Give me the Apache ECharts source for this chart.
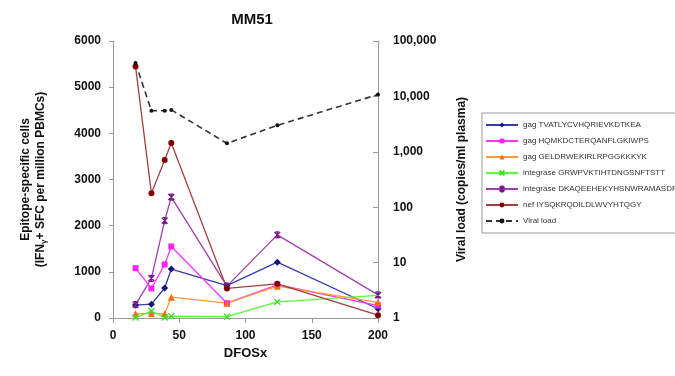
<!DOCTYPE html>
<html>
<head>
<meta charset="utf-8">
<script src="https://cdn.jsdelivr.net/npm/echarts@6/dist/echarts.min.js"></script>
<style>
  html, body { margin: 0; padding: 0; background: #fff; }
  #chart { width: 675px; height: 376px; }
</style>
</head>
<body>
<div id="chart"></div>
<script>
// DFOSx sample days
const days = [17, 29, 39, 44, 86, 124, 200];

// epitope-specific cells (IFN-g SFC per million PBMCs)
const gagTVA = [280, 300, 650, 1060, 700, 1210, 200];
const gagHQM = [1080, 640, 1160, 1550, 320, 720, 270];
const gagGEL = [90, 100, 90, 450, 320, 690, 340];
const intGRW = [10, 150, 10, 40, 30, 350, 490];
const intDKA = [290, 860, 2110, 2620, 690, 1800, 500];
const nefIYS = [5450, 2700, 3420, 3790, 640, 740, 60];

// viral load (copies/ml plasma)
const viralLoad = [40000, 5500, 5500, 5700, 1420, 3000, 10800];

const leftTicks = [0, 1000, 2000, 3000, 4000, 5000, 6000];

const names = [
    'gag TVATLYCVHQRIEVKDTKEA',
    'gag HQMKDCTERQANFLGKIWPS',
    'gag GELDRWEKIRLRPGGKKKYK',
    'integrase GRWPVKTIHTDNGSNFTSTT',
    'integrase DKAQEEHEKYHSNWRAMASDF',
    'nef IYSQKRQDILDLWVYHTQGY',
    'Viral load'
];

const crossPath = 'path://M0,0L10,10M10,0L0,10';
const starPath = 'path://M0,0L10,10M10,0L0,10M5,0L5,10M2,0L8,0M2,10L8,10';

function pairs(vals) {
    return days.map((d, i) => [d, vals[i]]);
}

function lineSeries(name, vals, color, markColor, symbol, size, stroke) {
    return {
        name: name,
        type: 'line',
        data: pairs(vals),
        symbol: symbol,
        symbolSize: size,
        lineStyle: { color: color, width: 1.3 },
        itemStyle: stroke
            ? { color: markColor, borderColor: markColor, borderWidth: 1.3 }
            : { color: markColor, borderWidth: 0 },
        emphasis: { disabled: true },
        animation: false
    };
}

const chart = echarts.init(document.getElementById('chart'));

const axisFont = { fontFamily: 'Liberation Sans, Arial', fontWeight: 'bold', fontSize: 12, color: '#111' };

chart.setOption({
    backgroundColor: '#fff',
    title: {
        text: 'MM51',
        left: 247,
        textAlign: 'center',
        top: 7,
        textStyle: { fontFamily: 'Liberation Sans, Arial', fontWeight: 'bold', fontSize: 15, color: '#111' }
    },
    grid: { left: 113, right: 297, top: 41, bottom: 58 },
    legend: {
        orient: 'vertical',
        left: 482,
        top: 113,
        padding: [8, 6, 8, 3],
        itemGap: 8,
        itemWidth: 32,
        itemHeight: 6,
        borderColor: '#999',
        borderWidth: 1,
        backgroundColor: '#fff',
        textStyle: { fontFamily: 'Liberation Sans, Arial', fontSize: 8, color: '#333', lineHeight: 8 },
        data: names
    },
    xAxis: {
        type: 'value',
        min: 0,
        max: 200,
        interval: 50,
        name: 'DFOSx',
        nameLocation: 'middle',
        nameGap: 28,
        nameTextStyle: { fontFamily: 'Liberation Sans, Arial', fontWeight: 'bold', fontSize: 13, color: '#111' },
        axisLine: { lineStyle: { color: '#999' } },
        axisTick: { lineStyle: { color: '#999' }, length: 5 },
        axisLabel: Object.assign({ margin: 12 }, axisFont),
        splitLine: { show: false }
    },
    yAxis: [
        {
            type: 'value',
            min: leftTicks[0],
            max: leftTicks[leftTicks.length - 1],
            interval: 1000,
            name: '{t|Epitope-specific cells}\n{t|(IFN}{s|γ}{t|+ SFC per million PBMCs)}',
            nameLocation: 'middle',
            nameGap: 65,
            nameRotate: 90,
            nameTextStyle: {
                rich: {
                    t: { fontFamily: 'Liberation Sans, Arial', fontWeight: 'bold', fontSize: 12, color: '#111', lineHeight: 15 },
                    s: { fontFamily: 'Liberation Sans, Arial', fontWeight: 'bold', fontSize: 8, color: '#111', lineHeight: 15, verticalAlign: 'bottom' }
                }
            },
            axisLine: { show: true, lineStyle: { color: '#999' } },
            axisTick: { show: true, lineStyle: { color: '#999' }, length: 4 },
            axisLabel: Object.assign({ margin: 12, formatter: v => String(v) }, axisFont),
            splitLine: { show: false }
        },
        {
            type: 'log',
            logBase: 10,
            min: 1,
            max: 100000,
            position: 'right',
            name: 'Viral load (copies/ml plasma)',
            nameLocation: 'middle',
            nameGap: 78,
            nameRotate: 90,
            nameTextStyle: { fontFamily: 'Liberation Sans, Arial', fontWeight: 'bold', fontSize: 12, color: '#111' },
            axisLine: { show: true, lineStyle: { color: '#999' } },
            axisTick: { show: true, inside: true, lineStyle: { color: '#999' }, length: 5 },
            axisLabel: Object.assign({
                margin: 15,
                formatter: v => Math.round(v).toLocaleString('en-US')
            }, axisFont),
            splitLine: { show: false }
        }
    ],
    series: [
        lineSeries(names[0], gagTVA, '#3a3aa8', '#14147a', 'diamond', 7, false),
        lineSeries(names[1], gagHQM, '#ff33ff', '#ff22ff', 'rect', 6, false),
        lineSeries(names[2], gagGEL, '#ff9933', '#ff6a10', 'triangle', 7, false),
        lineSeries(names[3], intGRW, '#55ff33', '#33dd22', crossPath, 6, true),
        lineSeries(names[4], intDKA, '#a040b0', '#7a1a8a', starPath, 6, true),
        lineSeries(names[5], nefIYS, '#a04040', '#800000', 'circle', 6, false),
        {
            name: names[6],
            type: 'line',
            yAxisIndex: 1,
            data: pairs(viralLoad),
            symbol: 'circle',
            symbolSize: 4,
            lineStyle: { color: '#333', width: 1.6, type: [6, 4] },
            itemStyle: { color: '#111', borderWidth: 0 },
            emphasis: { disabled: true },
            animation: false
        }
    ]
});
</script>
</body>
</html>
